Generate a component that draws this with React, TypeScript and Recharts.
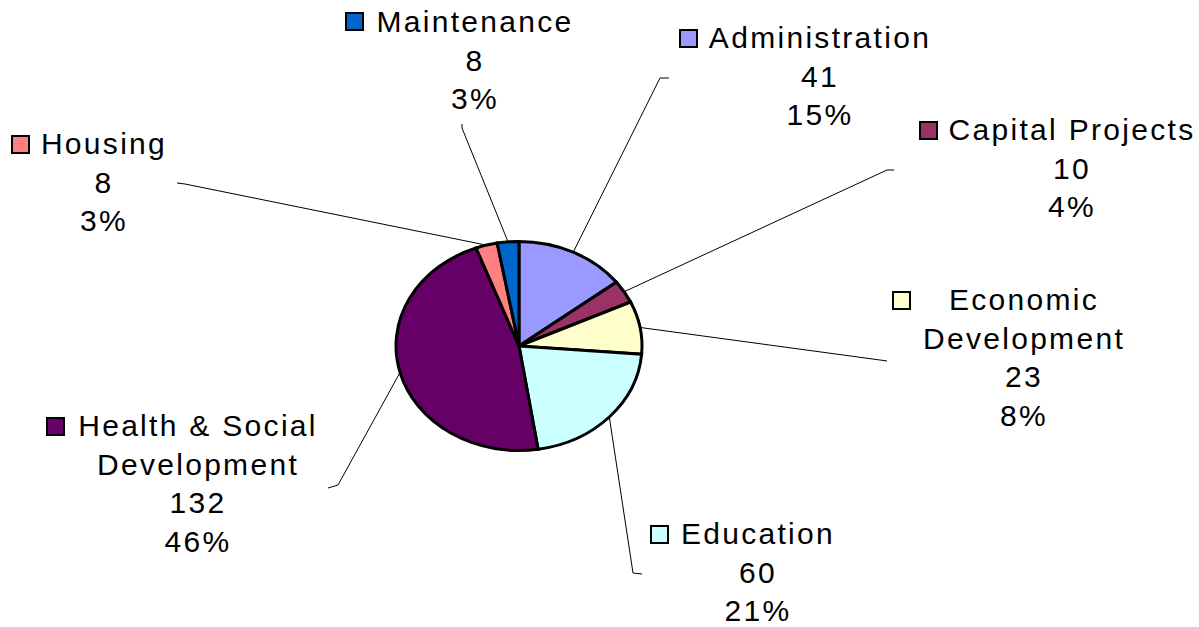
import React from "react";
import { PieChart, Pie, Cell } from "recharts";

const categories = [
  "Administration",
  "Capital Projects",
  "Economic Development",
  "Education",
  "Health & Social Development",
  "Housing",
  "Maintenance",
];
const values = [41, 10, 23, 60, 132, 8, 8];
const percentLabels = ["15%", "4%", "8%", "21%", "46%", "3%", "3%"];
const nameLines = [
  ["Administration"],
  ["Capital Projects"],
  ["Economic", "Development"],
  ["Education"],
  ["Health & Social", "Development"],
  ["Housing"],
  ["Maintenance"],
];

const colors = ["#9999FF", "#993366", "#FFFFCC", "#CCFFFF", "#660066", "#FF8080", "#0066CC"];

const data = categories.map((name, i) => ({ name, value: values[i] }));

// label layout (positions only)
const layout = [
  { cx: 820, y: 48, sq: [680, 30], end: [660, 78], tick: [669, 78] },
  { cx: 1072, y: 140, sq: [920, 122], end: [887, 170], tick: [894, 170] },
  { cx: 1024, y: 310, sq: [893, 292], end: [880, 360], tick: [887, 361] },
  { cx: 758, y: 544, sq: [651, 526], end: [633, 573], tick: [642, 574] },
  { cx: 198, y: 436, sq: [47, 418], end: [338, 485], tick: [328, 488] },
  { cx: 104, y: 154, sq: [12, 136], end: [185, 184], tick: [177, 183] },
  { cx: 475, y: 32, sq: [346, 13], end: [462, 128], tick: [462, 124] },
];

const SQUASH = 0.85;
const LINE_H = 38.5;
const RAD = Math.PI / 180;

const renderLabel = (props: any) => {
  const { cx, cy, midAngle, outerRadius, index, value } = props;
  const L = layout[index];
  const sx = cx + outerRadius * Math.cos(-midAngle * RAD);
  const sy = cy + outerRadius * SQUASH * Math.sin(-midAngle * RAD);
  const lines = [...nameLines[index], String(value), percentLabels[index]];
  return (
    <g key={`lbl-${index}`}>
      <polyline
        points={`${sx},${sy} ${L.end[0]},${L.end[1]} ${L.tick[0]},${L.tick[1]}`}
        fill="none"
        stroke="#000"
        strokeWidth={1}
      />
      <rect x={L.sq[0]} y={L.sq[1]} width={17} height={17} fill={colors[index]} stroke="#000" strokeWidth={2} />
      {lines.map((t, k) => (
        <text
          key={k}
          x={L.cx}
          y={L.y + k * LINE_H}
          textAnchor="middle"
          fontFamily="'Liberation Sans', Arial, sans-serif"
          fontSize={30}
          letterSpacing={2.3}
          fill="#000"
        >
          {t}
        </text>
      ))}
    </g>
  );
};

export default function App() {
  return (
    <div style={{ width: 1199, height: 627, background: "#fff" }}>
      <style>{`
        body { margin: 0; }
        path.recharts-sector {
          transform-origin: 519px 346px;
          transform: scaleY(${SQUASH});
          vector-effect: non-scaling-stroke;
        }
      `}</style>
      <PieChart width={1199} height={627} margin={{ top: 0, right: 0, bottom: 0, left: 0 }}>
        <Pie
          data={data}
          dataKey="value"
          nameKey="name"
          cx={519}
          cy={346}
          outerRadius={123}
          startAngle={90}
          endAngle={-270}
          stroke="#000"
          strokeWidth={3}
          isAnimationActive={false}
          labelLine={false}
          label={renderLabel}
        >
          {data.map((d, i) => (
            <Cell key={d.name} fill={colors[i]} />
          ))}
        </Pie>
      </PieChart>
    </div>
  );
}
